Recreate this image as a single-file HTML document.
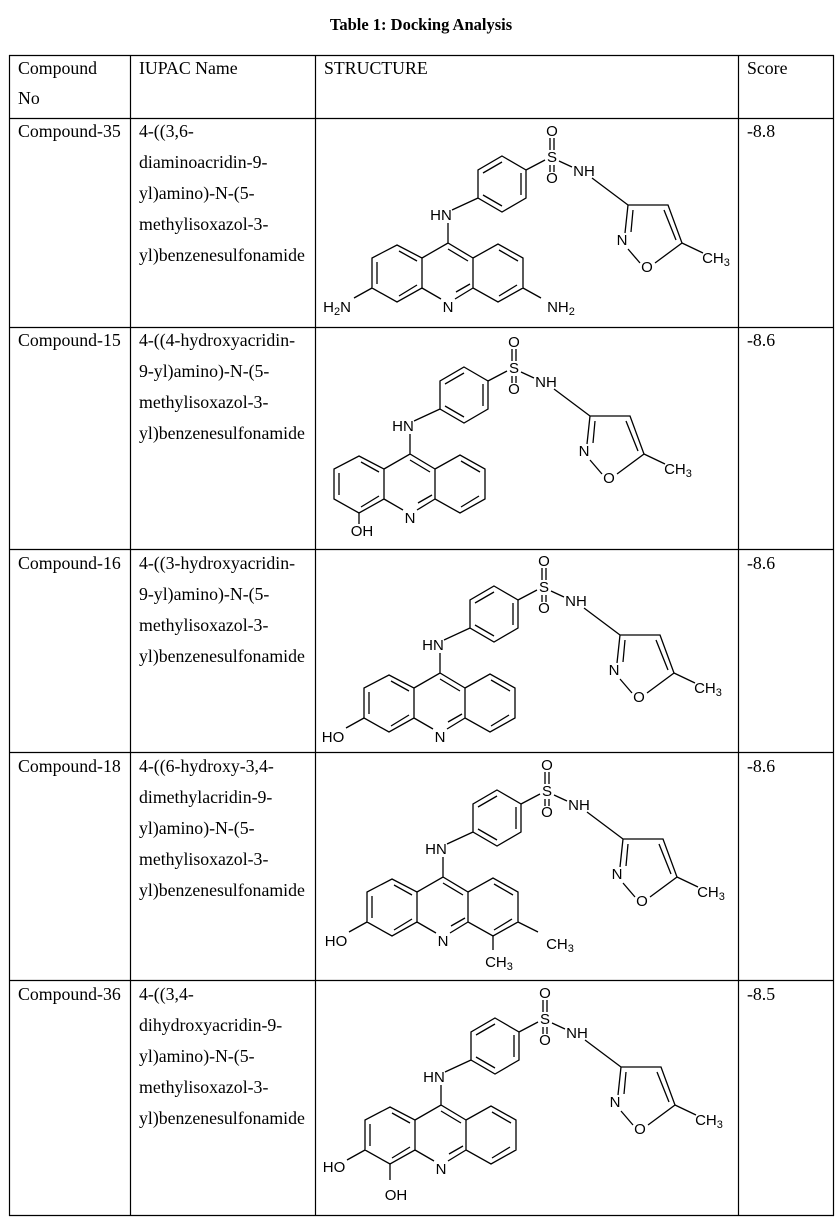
<!DOCTYPE html>
<html><head><meta charset="utf-8"><style>
html,body{margin:0;padding:0;background:#fff;}
svg{display:block;}
.t{font-family:"Liberation Serif",serif;font-size:17.8px;fill:#000;}
.a{font-family:"Liberation Sans",sans-serif;font-size:15px;fill:#000;text-anchor:middle;}
.b{stroke:#000;stroke-width:1.3;fill:none;}
</style></head><body>
<svg width="839" height="1222" viewBox="0 0 839 1222" xmlns="http://www.w3.org/2000/svg">
<text x="421" y="30" class="t" style="font-weight:bold;font-size:16.5px" text-anchor="middle">Table 1: Docking Analysis</text>
<g stroke="#000" stroke-width="1.2">
<line x1="9.5" y1="55" x2="9.5" y2="1216"/>
<line x1="130.5" y1="55" x2="130.5" y2="1216"/>
<line x1="315.5" y1="55" x2="315.5" y2="1216"/>
<line x1="738.5" y1="55" x2="738.5" y2="1216"/>
<line x1="833.5" y1="55" x2="833.5" y2="1216"/>
<line x1="9" y1="55.5" x2="834" y2="55.5"/>
<line x1="9" y1="118.5" x2="834" y2="118.5"/>
<line x1="9" y1="327.5" x2="834" y2="327.5"/>
<line x1="9" y1="549.5" x2="834" y2="549.5"/>
<line x1="9" y1="752.5" x2="834" y2="752.5"/>
<line x1="9" y1="980.5" x2="834" y2="980.5"/>
<line x1="9" y1="1215.5" x2="834" y2="1215.5"/>
</g>
<g class="t">
<text x="18" y="74">Compound</text><text x="18" y="104">No</text>
<text x="139" y="74">IUPAC Name</text>
<text x="324" y="74">STRUCTURE</text>
<text x="747" y="74">Score</text>

<text x="18" y="137">Compound-35</text>
<text x="139" y="137">4-((3,6-</text><text x="139" y="168">diaminoacridin-9-</text><text x="139" y="199">yl)amino)-N-(5-</text><text x="139" y="230">methylisoxazol-3-</text><text x="139" y="261">yl)benzenesulfonamide</text>
<text x="747" y="137">-8.8</text>

<text x="18" y="346">Compound-15</text>
<text x="139" y="346">4-((4-hydroxyacridin-</text><text x="139" y="377">9-yl)amino)-N-(5-</text><text x="139" y="408">methylisoxazol-3-</text><text x="139" y="439">yl)benzenesulfonamide</text>
<text x="747" y="346">-8.6</text>

<text x="18" y="569">Compound-16</text>
<text x="139" y="569">4-((3-hydroxyacridin-</text><text x="139" y="600">9-yl)amino)-N-(5-</text><text x="139" y="631">methylisoxazol-3-</text><text x="139" y="662">yl)benzenesulfonamide</text>
<text x="747" y="569">-8.6</text>

<text x="18" y="772">Compound-18</text>
<text x="139" y="772">4-((6-hydroxy-3,4-</text><text x="139" y="803">dimethylacridin-9-</text><text x="139" y="834">yl)amino)-N-(5-</text><text x="139" y="865">methylisoxazol-3-</text><text x="139" y="896">yl)benzenesulfonamide</text>
<text x="747" y="772">-8.6</text>

<text x="18" y="1000">Compound-36</text>
<text x="139" y="1000">4-((3,4-</text><text x="139" y="1031">dihydroxyacridin-9-</text><text x="139" y="1062">yl)amino)-N-(5-</text><text x="139" y="1093">methylisoxazol-3-</text><text x="139" y="1124">yl)benzenesulfonamide</text>
<text x="747" y="1000">-8.5</text>
</g>

<!-- Row 1 -->
<g transform="translate(0,0)">
<path class="b" d="M502,156 L526,170 L526,198 L502,212 L478,198 L478,170 Z M483,173 L502,162 M521,173 L521,195 M502,206 L483,195 M526,170 L545,160 M550,138 L550,150 M554,138 L554,150 M550,165 L550,172 M554,165 L554,172 M559,161 L572,167 M592,178 L628,205 M628,205 L668,205 L682,243 L655,263 M640,263 L628,249 M625,233 L628,205 M633,210 L631,232 M664,210 L676,240 M682,243 L703,253 M452,210 L478,198 M448,223 L448,243 M397,245 L422,258 L422,288 L397,302 L372,288 L372,258 Z M377,262 L377,284 M399,251 L417,261 M399,296 L417,285 M422,258 L448,243 L473,258 M473,288 L455,299 M441,299 L422,288 M448,249 L468,261 M473,258 L498,244 L523,258 L523,288 L498,302 L473,288 Z M499,250 L518,261 M517,285 L499,296 M470,284 L456,292"/>
<text class="a" x="552" y="162">S</text><text class="a" x="552" y="136">O</text><text class="a" x="552" y="183">O</text>
<text class="a" x="584" y="176">NH</text><text class="a" x="622" y="245">N</text><text class="a" x="647" y="272">O</text>
<text class="a" x="716" y="263">CH<tspan font-size="11" dy="3">3</tspan></text>
<text class="a" x="441" y="220">HN</text><text class="a" x="448" y="312">N</text>
<path class="b" d="M372,288 L354,298 M523,288 L541,298"/>
<text class="a" x="337" y="312">H<tspan font-size="11" dy="3">2</tspan><tspan dy="-3">N</tspan></text>
<text class="a" x="561" y="312">NH<tspan font-size="11" dy="3">2</tspan></text>
</g>

<!-- Row 2 -->
<g transform="translate(-38,211)">
<path class="b" d="M502,156 L526,170 L526,198 L502,212 L478,198 L478,170 Z M483,173 L502,162 M521,173 L521,195 M502,206 L483,195 M526,170 L545,160 M550,138 L550,150 M554,138 L554,150 M550,165 L550,172 M554,165 L554,172 M559,161 L572,167 M592,178 L628,205 M628,205 L668,205 L682,243 L655,263 M640,263 L628,249 M625,233 L628,205 M633,210 L631,232 M664,210 L676,240 M682,243 L703,253 M452,210 L478,198 M448,223 L448,243 M397,245 L422,258 L422,288 L397,302 L372,288 L372,258 Z M377,262 L377,284 M399,251 L417,261 M399,296 L417,285 M422,258 L448,243 L473,258 M473,288 L455,299 M441,299 L422,288 M448,249 L468,261 M473,258 L498,244 L523,258 L523,288 L498,302 L473,288 Z M499,250 L518,261 M517,285 L499,296 M470,284 L456,292"/>
<text class="a" x="552" y="162">S</text><text class="a" x="552" y="136">O</text><text class="a" x="552" y="183">O</text>
<text class="a" x="584" y="176">NH</text><text class="a" x="622" y="245">N</text><text class="a" x="647" y="272">O</text>
<text class="a" x="716" y="263">CH<tspan font-size="11" dy="3">3</tspan></text>
<text class="a" x="441" y="220">HN</text><text class="a" x="448" y="312">N</text>
<path class="b" d="M397,302 L397,313"/>
<text class="a" x="400" y="325">OH</text>
</g>

<!-- Row 3 -->
<g transform="translate(-8,430)">
<path class="b" d="M502,156 L526,170 L526,198 L502,212 L478,198 L478,170 Z M483,173 L502,162 M521,173 L521,195 M502,206 L483,195 M526,170 L545,160 M550,138 L550,150 M554,138 L554,150 M550,165 L550,172 M554,165 L554,172 M559,161 L572,167 M592,178 L628,205 M628,205 L668,205 L682,243 L655,263 M640,263 L628,249 M625,233 L628,205 M633,210 L631,232 M664,210 L676,240 M682,243 L703,253 M452,210 L478,198 M448,223 L448,243 M397,245 L422,258 L422,288 L397,302 L372,288 L372,258 Z M377,262 L377,284 M399,251 L417,261 M399,296 L417,285 M422,258 L448,243 L473,258 M473,288 L455,299 M441,299 L422,288 M448,249 L468,261 M473,258 L498,244 L523,258 L523,288 L498,302 L473,288 Z M499,250 L518,261 M517,285 L499,296 M470,284 L456,292"/>
<text class="a" x="552" y="162">S</text><text class="a" x="552" y="136">O</text><text class="a" x="552" y="183">O</text>
<text class="a" x="584" y="176">NH</text><text class="a" x="622" y="245">N</text><text class="a" x="647" y="272">O</text>
<text class="a" x="716" y="263">CH<tspan font-size="11" dy="3">3</tspan></text>
<text class="a" x="441" y="220">HN</text><text class="a" x="448" y="312">N</text>
<path class="b" d="M372,288 L354,298"/>
<text class="a" x="341" y="312">HO</text>
</g>

<!-- Row 4 -->
<g transform="translate(-5,634)">
<path class="b" d="M502,156 L526,170 L526,198 L502,212 L478,198 L478,170 Z M483,173 L502,162 M521,173 L521,195 M502,206 L483,195 M526,170 L545,160 M550,138 L550,150 M554,138 L554,150 M550,165 L550,172 M554,165 L554,172 M559,161 L572,167 M592,178 L628,205 M628,205 L668,205 L682,243 L655,263 M640,263 L628,249 M625,233 L628,205 M633,210 L631,232 M664,210 L676,240 M682,243 L703,253 M452,210 L478,198 M448,223 L448,243 M397,245 L422,258 L422,288 L397,302 L372,288 L372,258 Z M377,262 L377,284 M399,251 L417,261 M399,296 L417,285 M422,258 L448,243 L473,258 M473,288 L455,299 M441,299 L422,288 M448,249 L468,261 M473,258 L498,244 L523,258 L523,288 L498,302 L473,288 Z M499,250 L518,261 M517,285 L499,296 M470,284 L456,292"/>
<text class="a" x="552" y="162">S</text><text class="a" x="552" y="136">O</text><text class="a" x="552" y="183">O</text>
<text class="a" x="584" y="176">NH</text><text class="a" x="622" y="245">N</text><text class="a" x="647" y="272">O</text>
<text class="a" x="716" y="263">CH<tspan font-size="11" dy="3">3</tspan></text>
<text class="a" x="441" y="220">HN</text><text class="a" x="448" y="312">N</text>
<path class="b" d="M372,288 L354,298 M498,302 L498,316 M523,288 L543,298"/>
<text class="a" x="341" y="312">HO</text>
<text class="a" x="504" y="333">CH<tspan font-size="11" dy="3">3</tspan></text>
<text class="a" x="565" y="315">CH<tspan font-size="11" dy="3">3</tspan></text>
</g>

<!-- Row 5 -->
<g transform="translate(-7,862)">
<path class="b" d="M502,156 L526,170 L526,198 L502,212 L478,198 L478,170 Z M483,173 L502,162 M521,173 L521,195 M502,206 L483,195 M526,170 L545,160 M550,138 L550,150 M554,138 L554,150 M550,165 L550,172 M554,165 L554,172 M559,161 L572,167 M592,178 L628,205 M628,205 L668,205 L682,243 L655,263 M640,263 L628,249 M625,233 L628,205 M633,210 L631,232 M664,210 L676,240 M682,243 L703,253 M452,210 L478,198 M448,223 L448,243 M397,245 L422,258 L422,288 L397,302 L372,288 L372,258 Z M377,262 L377,284 M399,251 L417,261 M399,296 L417,285 M422,258 L448,243 L473,258 M473,288 L455,299 M441,299 L422,288 M448,249 L468,261 M473,258 L498,244 L523,258 L523,288 L498,302 L473,288 Z M499,250 L518,261 M517,285 L499,296 M470,284 L456,292"/>
<text class="a" x="552" y="162">S</text><text class="a" x="552" y="136">O</text><text class="a" x="552" y="183">O</text>
<text class="a" x="584" y="176">NH</text><text class="a" x="622" y="245">N</text><text class="a" x="647" y="272">O</text>
<text class="a" x="716" y="263">CH<tspan font-size="11" dy="3">3</tspan></text>
<text class="a" x="441" y="220">HN</text><text class="a" x="448" y="312">N</text>
<path class="b" d="M372,288 L354,298 M397,302 L397,318"/>
<text class="a" x="341" y="310">HO</text>
<text class="a" x="403" y="338">OH</text>
</g>
</svg>
</body></html>
